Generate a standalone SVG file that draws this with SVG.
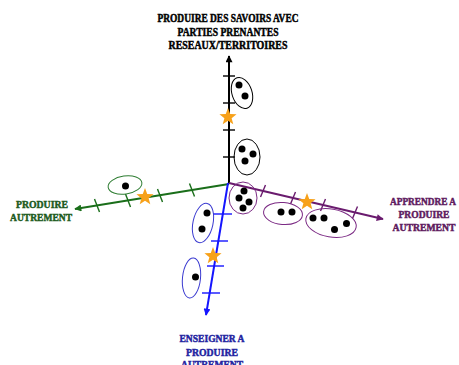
<svg xmlns="http://www.w3.org/2000/svg" xmlns:xlink="http://www.w3.org/1999/xlink" width="459" height="365" viewBox="0 0 459 365">
<style>
.lbl{font-family:"Liberation Serif","Times New Roman",serif;font-weight:bold;text-anchor:middle;stroke-width:0.45px;paint-order:stroke}
.title{font-size:11.5px;fill:#000;stroke:#000}
.g{fill:#1c5a1c;stroke:#1c5a1c;font-size:10.5px}
.p{fill:#5e1a5e;stroke:#5e1a5e;font-size:10px}
.b{fill:#2323a0;stroke:#2323a0;font-size:10.5px}
.dot{fill:#000}
.star{fill:#f7a11a}
.ax{fill:none;stroke-width:2}
.tk{fill:none;stroke-width:1.4}
.el{fill:none;stroke-width:1}
</style>
<defs>
<path id="star" d="M0,-9 L2.23,-3.07 L8.56,-2.78 L3.61,1.17 L5.29,7.28 L0,3.8 L-5.29,7.28 L-3.61,1.17 L-8.56,-2.78 L-2.23,-3.07 Z"/>
<marker id="ahK" viewBox="0 0 10 10" refX="9" refY="5" markerWidth="8" markerHeight="7" markerUnits="userSpaceOnUse" orient="auto"><path d="M0,0 L10,5 L0,10 z" fill="#000"/></marker>
<marker id="ahG" viewBox="0 0 10 10" refX="9" refY="5" markerWidth="8" markerHeight="7" markerUnits="userSpaceOnUse" orient="auto"><path d="M0,0 L10,5 L0,10 z" fill="#1a6e1a"/></marker>
<marker id="ahP" viewBox="0 0 10 10" refX="9" refY="5" markerWidth="8" markerHeight="7" markerUnits="userSpaceOnUse" orient="auto"><path d="M0,0 L10,5 L0,10 z" fill="#6a1b6e"/></marker>
<marker id="ahB" viewBox="0 0 10 10" refX="9" refY="5" markerWidth="8" markerHeight="7" markerUnits="userSpaceOnUse" orient="auto"><path d="M0,0 L10,5 L0,10 z" fill="#1515ff"/></marker>
</defs>
<rect width="459" height="365" fill="#fff"/>

<g id="connectors">
  <line class="ax" x1="229" y1="184" x2="229" y2="56" stroke="#000" marker-end="url(#ahK)"/>
  <g stroke="#000" class="tk">
    <line x1="223" y1="76" x2="235" y2="76"/>
    <line x1="223" y1="103" x2="235" y2="103"/>
    <line x1="223" y1="130" x2="235" y2="130"/>
    <line x1="223" y1="157" x2="235" y2="157"/>
  </g>
  <line class="ax" x1="229" y1="184" x2="75" y2="209" stroke="#1a6e1a" marker-end="url(#ahG)"/>
  <g stroke="#1a6e1a" class="tk">
    <line x1="94.5" y1="199" x2="99.5" y2="212"/>
    <line x1="125.5" y1="194" x2="130.5" y2="207"/>
    <line x1="157.5" y1="189" x2="162.5" y2="202"/>
    <line x1="189.5" y1="183.5" x2="194.5" y2="196.5"/>
  </g>
  <line class="ax" x1="229" y1="183" x2="383" y2="219" stroke="#6a1b6e" marker-end="url(#ahP)"/>
  <g stroke="#6a1b6e" class="tk">
    <line x1="260.5" y1="197" x2="265.5" y2="185"/>
    <line x1="290.5" y1="204" x2="295.5" y2="192"/>
    <line x1="320.5" y1="211" x2="325.5" y2="199"/>
    <line x1="352.5" y1="218.5" x2="357.5" y2="206.5"/>
  </g>
  <line class="ax" x1="228" y1="183" x2="206" y2="315" stroke="#1515ff" marker-end="url(#ahB)"/>
  <g stroke="#1515ff" class="tk">
    <line x1="213" y1="214" x2="232" y2="214"/>
    <line x1="211" y1="241" x2="228" y2="241"/>
    <line x1="207" y1="266" x2="224" y2="266"/>
    <line x1="202" y1="293" x2="220" y2="293"/>
  </g>
</g>

<g id="title">
  <text class="lbl title" x="228" y="22" textLength="141" lengthAdjust="spacingAndGlyphs">PRODUIRE DES SAVOIRS AVEC</text>
  <text class="lbl title" x="228" y="35.5" textLength="101" lengthAdjust="spacingAndGlyphs">PARTIES PRENANTES</text>
  <text class="lbl title" x="228" y="49" textLength="119" lengthAdjust="spacingAndGlyphs">RESEAUX/TERRITOIRES</text>
</g>

<g id="label-green">
  <text class="lbl g" x="42" y="207.5" textLength="52" lengthAdjust="spacingAndGlyphs">PRODUIRE</text>
  <text class="lbl g" x="41" y="220.5" textLength="62" lengthAdjust="spacingAndGlyphs">AUTREMENT</text>
</g>
<g id="label-purple">
  <text class="lbl p" x="423" y="205" textLength="66" lengthAdjust="spacingAndGlyphs">APPRENDRE A</text>
  <text class="lbl p" x="424" y="218" textLength="51" lengthAdjust="spacingAndGlyphs">PRODUIRE</text>
  <text class="lbl p" x="424" y="231" textLength="63" lengthAdjust="spacingAndGlyphs">AUTREMENT</text>
</g>
<g id="label-blue">
  <text class="lbl b" x="212" y="342" textLength="65" lengthAdjust="spacingAndGlyphs">ENSEIGNER A</text>
  <text class="lbl b" x="212" y="355.5" textLength="52" lengthAdjust="spacingAndGlyphs">PRODUIRE</text>
  <text class="lbl b" x="212" y="368" textLength="62" lengthAdjust="spacingAndGlyphs">AUTREMENT</text>
</g>

<g id="cluster-v1">
  <ellipse class="el" stroke="#000" cx="242" cy="93" rx="10" ry="16" transform="rotate(-18 242 93)"/>
  <circle class="dot" cx="239" cy="85" r="3.5"/>
  <circle class="dot" cx="245" cy="96" r="3.5"/>
</g>
<g id="cluster-v2">
  <ellipse class="el" stroke="#000" cx="247" cy="157" rx="13" ry="18"/>
  <circle class="dot" cx="242" cy="149" r="3.5"/>
  <circle class="dot" cx="253" cy="154" r="3.5"/>
  <circle class="dot" cx="245" cy="161" r="3.5"/>
</g>
<g id="cluster-g1">
  <ellipse class="el" stroke="#2e7d32" cx="125" cy="185" rx="17" ry="9" transform="rotate(-8 125 185)"/>
  <circle class="dot" cx="125.5" cy="186" r="3.5"/>
</g>
<g id="cluster-p1">
  <ellipse class="el" stroke="#7b2a84" cx="243" cy="198" rx="14" ry="16"/>
  <circle class="dot" cx="244" cy="191" r="3.5"/>
  <circle class="dot" cx="239" cy="198" r="3.5"/>
  <circle class="dot" cx="249" cy="202" r="3.5"/>
  <circle class="dot" cx="243" cy="208" r="3.5"/>
</g>
<g id="cluster-p2">
  <ellipse class="el" stroke="#7b2a84" cx="283" cy="213.5" rx="19.5" ry="11" transform="rotate(5 283 213.5)"/>
  <circle class="dot" cx="281" cy="212" r="3.5"/>
  <circle class="dot" cx="292" cy="212" r="3.5"/>
</g>
<g id="cluster-p3">
  <ellipse class="el" stroke="#7b2a84" cx="331" cy="223" rx="25.5" ry="14" transform="rotate(10 331 223)"/>
  <circle class="dot" cx="313" cy="218" r="3.5"/>
  <circle class="dot" cx="324" cy="218" r="3.5"/>
  <circle class="dot" cx="334.5" cy="229.5" r="3.5"/>
  <circle class="dot" cx="346.5" cy="223.5" r="3.5"/>
</g>
<g id="cluster-b1">
  <ellipse class="el" stroke="#3a3ad0" cx="203" cy="223" rx="10" ry="20" transform="rotate(12 203 223)"/>
  <circle class="dot" cx="207" cy="213" r="3.5"/>
  <circle class="dot" cx="202" cy="229" r="3.5"/>
</g>
<g id="cluster-b2">
  <ellipse class="el" stroke="#3a3ad0" cx="191.5" cy="278" rx="9" ry="20" transform="rotate(6 191.5 278)"/>
  <circle class="dot" cx="195.5" cy="277" r="3.5"/>
</g>

<g id="stars">
  <use xlink:href="#star" class="star" x="228" y="117"/>
  <use xlink:href="#star" class="star" x="145" y="197"/>
  <use xlink:href="#star" class="star" x="307" y="202"/>
  <use xlink:href="#star" class="star" x="213" y="256"/>
</g>
</svg>
